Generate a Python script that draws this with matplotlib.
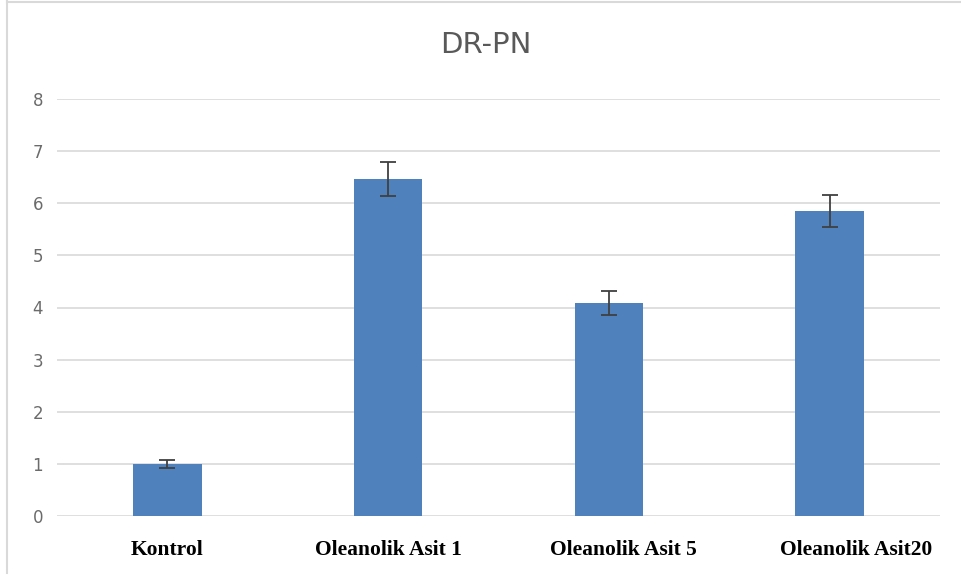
import matplotlib
matplotlib.use("Agg")
import matplotlib.pyplot as plt
from matplotlib.lines import Line2D
from matplotlib.transforms import ScaledTranslation

categories = ["Kontrol", "Oleanolik Asit 1", "Oleanolik Asit 5", "Oleanolik Asit20"]
values = [1.0, 6.47, 4.09, 5.85]
errors = [0.07, 0.33, 0.23, 0.30]
yticks = [0, 1, 2, 3, 4, 5, 6, 7, 8]

fig = plt.figure(figsize=(9.61, 5.76), dpi=100)
ax = fig.add_axes([57/961, 1-516/576, (940-57)/961, (516-99)/576])

x = list(range(len(categories)))
ax.bar(x, values, width=0.31, color="#4f81bd", zorder=3,
       yerr=errors, error_kw=dict(ecolor="#404040", elinewidth=1.3, capsize=6, capthick=1.3, zorder=4))

ax.set_xlim(-0.5, 3.5)
ax.set_ylim(0, 8)
ax.set_yticks(yticks)
ax.set_yticklabels([str(t) for t in yticks], fontsize=12, color="#6b6b6b")
ax.yaxis.grid(True, color="#d9d9d9", linewidth=1.2, zorder=0)
ax.set_axisbelow(True)
ax.tick_params(axis="y", length=0, pad=10)
ax.tick_params(axis="x", length=0, pad=17)
ax.set_xticks(x)
ax.set_xticklabels(categories, fontsize=15.5, fontweight="bold", color="black",
                   family=["Liberation Serif", "DejaVu Serif"])
# slight horizontal offsets seen in the reference label placement
offsets_px = [0, 0, 14, 26]
for lab, dx in zip(ax.get_xticklabels(), offsets_px):
    lab.set_transform(lab.get_transform() + ScaledTranslation(dx/100, 0, fig.dpi_scale_trans))
for s in ax.spines.values():
    s.set_visible(False)

fig.text(486/961, 1-45/576, "DR-PN", ha="center", va="center", fontsize=21,
         color="#595959")

fig.add_artist(Line2D([7/961, 7/961], [1-573/576, 1-1/576], transform=fig.transFigure,
                      color="#d9d9d9", linewidth=1.5))
fig.add_artist(Line2D([7/961, 1.0], [1-1.5/576, 1-1.5/576], transform=fig.transFigure,
                      color="#d9d9d9", linewidth=1.5))

fig.savefig("out.png", dpi=100)
